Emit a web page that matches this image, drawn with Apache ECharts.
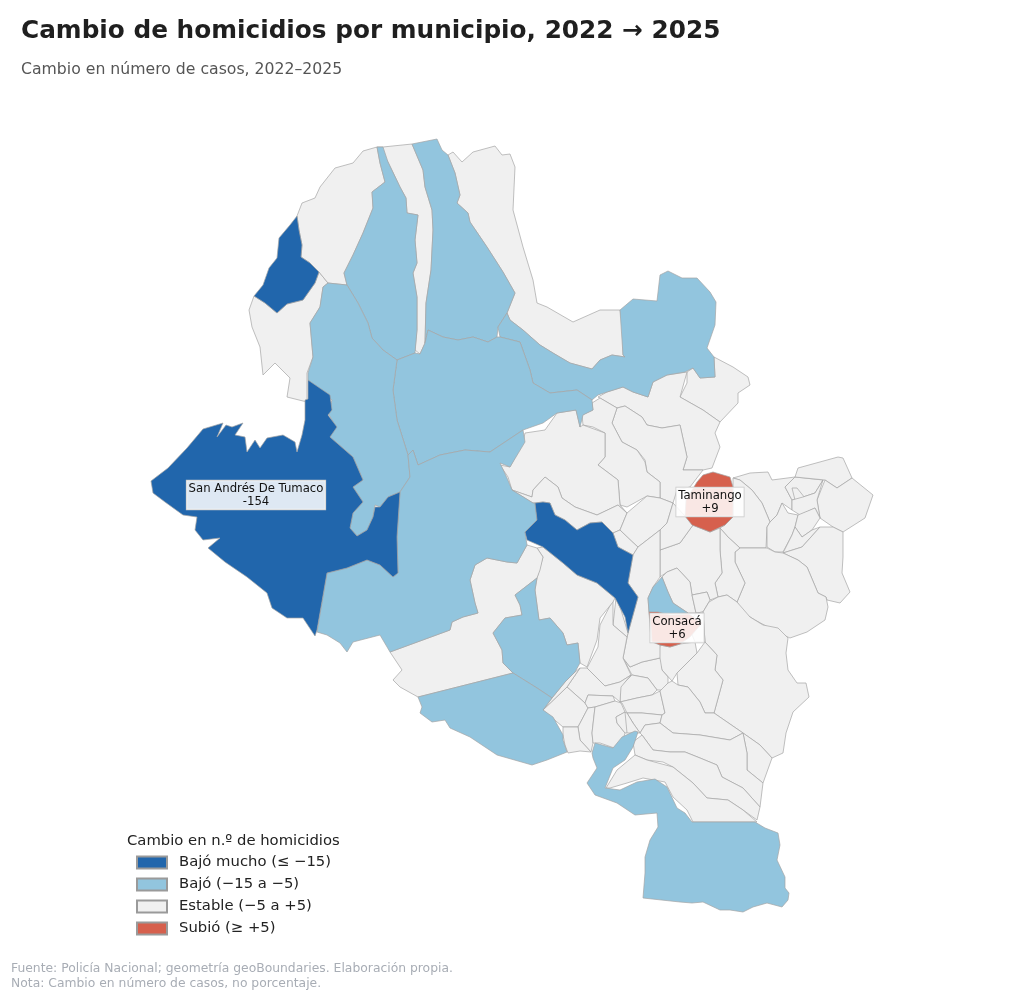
<!DOCTYPE html>
<html><head><meta charset="utf-8">
<style>html,body{margin:0;padding:0;background:#fff}#c{width:1024px;height:1000px}</style>
<script src="https://cdn.jsdelivr.net/npm/echarts@6/dist/echarts.min.js"></script>
</head><body><div id="c"></div>
<script>
const titleText='Cambio de homicidios por municipio, 2022 → 2025';
const subtitleText='Cambio en número de casos, 2022–2025';
const legendTitle='Cambio en n.º de homicidios';
const legendLabels=['Bajó mucho (≤ −15)','Bajó (−15 a −5)','Estable (−5 a +5)','Subió (≥ +5)'];
const binColors=['#2166ac','#92c5de','#f0f0f0','#d6604d'];
const footerText='Fuente: Policía Nacional; geometría geoBoundaries. Elaboración propia.\nNota: Cambio en número de casos, no porcentaje.';
const labelled=['San Andrés De Tumaco','Taminango','Consacá'];
const labelAnchors={'San Andrés De Tumaco':[256,495],'Taminango':[710,502],'Consacá':[677,628]};

// municipal boundaries, as flat x,y lists
const shapes={
G01:[254,296,249,310,252,327,260,347,263,375,275,363,290,378,287,397,307,402,307,373,313,357,310,323,320,307,323,287,328,283,319,272,315,283,303,300,287,304,277,313,265,303],
G02:[297,216,302,203,315,198,320,187,335,168,353,163,363,151,377,147,380,163,385,182,372,192,373,208,363,233,353,255,344,273,347,285,328,283,319,272,310,263,301,257,302,245,299,230],
G03:[377,147,383,147,412,144,423,170,425,187,432,210,433,230,431,270,426,303,425,343,420,354,415,350,417,330,417,297,413,273,417,263,415,240,418,215,407,213,406,198,400,187,388,162],
G04:[448,155,453,152,462,162,473,152,495,146,502,155,510,154,515,167,513,210,523,247,533,280,537,303,547,307,573,322,600,310,620,310,623,327,623,355,625,357,612,355,600,360,592,369,570,363,553,353,540,345,523,330,510,320,507,313,515,293,503,272,487,247,470,222,468,213,457,203,460,195,455,173],
G05:[687,372,693,368,700,378,715,377,714,357,733,367,748,377,750,385,738,393,738,403,720,422,703,410,680,397,687,383],
G06:[598,397,607,392,623,387,633,392,648,397,653,382,667,375,687,372,680,397,703,410,720,422,715,433,720,447,712,468,703,470,683,470,687,457,680,425,662,428,647,425,642,417,625,406,617,408,600,398],
G07:[617,408,612,423,622,442,637,450,645,460,647,472,660,482,660,498,673,503,677,490,690,487,703,470,683,470,687,457,680,425,662,428,647,425,642,417,625,406],
G08:[592,403,600,398,617,408,612,423,622,442,637,450,645,462,647,472,660,482,660,498,647,496,627,507,620,505,618,480,598,465,605,457,605,433,593,427,583,425,582,415,593,410],
G09:[525,433,545,430,557,413,576,410,580,427,583,425,605,433,605,457,598,465,618,480,620,505,627,513,618,505,597,515,575,507,562,498,558,487,545,477,533,490,532,497,512,490,508,477,500,465,510,467,523,442],
G10:[512,490,532,497,533,490,545,477,558,487,562,498,575,507,597,515,618,505,627,513,620,530,613,533,602,522,590,523,577,530,565,520,555,515,550,503,543,502,535,503,533,503],
G11:[620,530,638,547,633,555,618,547,613,533],
G12:[627,513,647,496,660,498,673,503,667,523,660,530,638,547,620,530],
G13:[733,478,750,473,768,472,772,480,795,477,785,487,792,500,792,510,782,503,777,515,770,522,762,503,752,490,740,480],
G14:[733,478,740,480,752,490,762,503,770,522,767,527,766,548,740,548,728,537,720,528,725,525,733,517],
G15:[770,522,777,515,782,503,788,513,798,515,795,527,792,535,783,552,775,552,767,547,767,527],
G16:[785,487,795,477,823,480,815,493,803,497,792,500],
G17:[792,488,797,488,805,498,795,500],
G18:[795,477,798,468,838,457,843,458,852,478,837,488,825,480],
G19:[825,480,837,488,852,478,873,495,865,518,843,532,833,527,820,518,817,500],
G20:[817,500,820,518,815,508,800,515,792,510,792,500,803,497,815,493,823,480],
G21:[798,515,815,508,820,518,812,530,802,537,795,527],
G22:[792,535,795,527,802,537,812,530,820,527,802,547,783,553],
G23:[783,553,802,547,820,527,833,527,843,532,843,557,842,573,850,592,840,603,827,600,826,597,818,593,807,567,798,560],
G24:[735,552,740,548,767,548,775,552,783,553,798,560,807,567,818,593,826,597,828,607,825,620,807,632,790,638,777,632,755,620,742,612,737,602,745,583,735,562],
G25:[720,528,728,537,740,548,735,552,735,562,745,583,737,602,727,595,718,597,715,583,722,573,720,550],
G26:[660,550,680,543,693,525,710,532,720,528,720,550,722,573,715,583,718,597,710,600,707,592,692,595,690,582,677,568,667,572,660,577],
G27:[673,503,685,516,693,525,680,543,660,550,660,530,667,523],
G28:[662,577,667,572,677,568,690,582,692,595,696,613,688,613,673,603,668,592],
G29:[692,595,707,592,710,600,703,612,696,613],
G30:[709,602,718,597,727,595,737,602,750,617,763,625,778,628,788,638,786,653,788,670,797,683,806,683,809,697,793,712,786,733,783,753,772,758,760,745,743,733,714,713,723,680,715,670,717,655,705,642,703,612],
G31:[660,645,658,658,662,670,672,681,677,673,697,653,695,642,680,644,670,647],
G32:[677,673,678,685,688,687,700,702,705,713,714,713,723,680,715,670,717,655,705,642,697,653],
G33:[696,613,703,612,705,642,695,642,688,625],
G34:[623,658,630,667,642,662,660,658,662,670,668,677,668,683,663,690,657,690,648,678,632,675],
G35:[632,675,648,678,657,690,652,695,637,698,620,702,620,687],
G36:[620,702,637,698,652,695,660,691,665,713,662,715,642,713,627,713,622,703],
G37:[627,713,642,713,662,715,660,723,645,725,640,733,633,723],
G38:[672,681,678,685,688,687,700,702,705,713,714,713,743,733,730,740,700,735,673,733,660,723,662,715,665,713,660,691,668,683],
G39:[743,733,760,745,772,758,763,783,747,770,747,753],
G40:[640,733,645,725,660,723,673,733,700,735,730,740,743,733,747,753,747,770,763,783,760,807,743,788,722,777,717,765,700,758,685,752,670,752,653,750,642,735],
G41:[633,742,642,735,653,750,670,752,685,752,700,758,717,765,722,777,743,788,760,807,757,820,743,810,728,800,707,798,693,783,673,767,663,762,647,760,635,755],
G42:[635,755,647,760,673,767,693,783,707,798,728,800,743,810,757,822,693,822,687,810,673,797,665,782,643,778,627,783,610,788,606,788,617,770],
G43:[633,555,638,547,660,530,660,577,653,587,648,598,649,612,651,640,660,645,660,658,642,662,630,667,623,658,628,633,638,597,628,583],
G44:[616,598,613,625,627,637,628,633,621,610],
G45:[613,600,600,625,598,647,587,668,605,686,620,682,631,675,623,658,627,637,613,625],
G46:[567,687,580,668,587,668,605,686,620,682,631,675,621,687,620,702,613,696,588,695,585,703],
G47:[543,710,567,687,585,703,588,708,578,727,563,727],
G48:[585,703,588,695,613,696,615,701,595,707,588,708],
G49:[588,708,595,707,592,733,593,743,591,752,580,740,578,727],
G50:[595,707,615,701,621,703,625,712,616,717,617,723,625,733,620,750,600,743,593,743,592,733],
G51:[616,717,625,712,633,723,627,733,625,733,617,723],
G52:[627,713,633,723,640,733,635,733,627,733,625,712],
G53:[563,727,578,727,580,740,591,752,580,751,568,753,565,745,563,735],
G54:[552,698,565,682,575,672,580,668,567,687,543,710],
G55:[537,548,543,547,563,563,577,575,597,583,615,598,613,602,600,618,597,640,587,667,580,663,578,643,567,645,563,633,550,618,539,620,535,590,537,578,543,557],
G56:[390,652,450,630,452,622,463,617,478,613,475,603,470,580,475,565,487,558,507,562,517,563,527,545,537,548,543,557,540,570,537,578,515,595,520,605,522,615,505,618,493,633,502,650,503,663,513,673,418,697,400,687,393,680,402,670],
L01:[377,147,383,147,388,162,400,187,406,198,407,213,418,215,415,240,417,263,413,273,417,297,417,330,415,353,397,360,383,350,372,338,368,323,358,303,347,285,344,273,353,255,363,233,373,208,372,192,385,182,380,163],
L02:[412,144,437,139,442,150,448,155,455,173,460,195,457,203,468,213,470,222,487,247,503,272,515,293,507,313,498,327,497,337,488,342,473,337,458,340,443,337,428,330,425,343,426,303,431,270,433,230,432,210,425,187,423,170],
L03:[498,327,507,313,510,320,523,330,540,345,553,353,570,363,592,369,600,360,612,355,625,357,623,355,620,310,633,299,657,301,660,275,668,271,682,278,697,278,710,292,716,302,715,325,707,348,714,357,715,377,700,378,693,368,685,372,667,375,653,382,648,397,633,392,623,387,607,392,598,395,592,400,577,390,550,393,533,383,530,370,520,342,500,337],
L04:[397,360,415,353,420,354,425,343,428,330,443,337,458,340,473,337,488,342,497,337,500,337,520,342,530,370,533,383,550,393,577,390,592,400,593,410,583,415,580,427,576,410,557,413,543,423,523,430,490,452,465,450,440,455,418,465,413,450,408,455,397,420,393,390],
L05:[323,287,328,283,347,285,358,303,368,323,372,338,383,350,397,360,393,390,397,420,408,455,410,477,400,492,388,497,380,507,375,505,373,517,367,530,357,536,350,528,353,513,363,502,353,487,363,480,353,457,330,437,336,427,328,413,332,400,308,380,308,373,313,357,310,323,320,307],
L06:[400,492,410,477,408,455,413,450,418,465,440,455,465,450,490,452,523,430,525,442,510,467,500,463,507,478,512,490,533,503,535,503,537,520,525,532,527,545,517,563,507,562,487,558,475,565,470,580,475,603,478,613,463,617,452,622,450,630,390,652,380,635,353,642,347,652,340,643,327,635,317,632,327,573,347,568,367,560,380,565,393,577,398,573,397,537],
L07:[537,578,535,590,539,620,550,618,563,633,567,645,578,643,580,663,575,672,565,682,552,698,537,688,513,673,503,663,502,650,493,633,505,618,522,615,520,605,515,595],
L08:[418,697,513,673,537,688,552,698,543,710,553,717,563,735,563,740,567,752,547,760,532,765,497,755,470,737,450,728,445,720,432,722,420,713,422,707],
L09:[662,577,668,592,673,603,688,613,660,614,649,612,648,598,653,587],
L10:[638,732,633,747,625,760,613,768,605,788,620,790,637,782,655,779,667,787,677,808,685,813,692,822,755,822,765,828,778,833,780,845,777,860,785,877,785,888,789,893,788,900,782,907,767,903,753,907,743,912,730,910,720,910,703,902,692,903,680,902,643,898,645,873,645,857,650,840,658,827,657,813,635,815,617,803,595,795,587,783,597,768,593,758,592,753,595,743,613,748,622,737,635,731],
D01:[297,216,299,230,302,245,301,257,310,263,319,272,315,283,303,300,287,304,277,313,265,303,254,296,263,285,269,268,277,258,279,238,290,225],
D02:[525,532,537,520,535,503,543,502,550,503,555,515,565,520,577,530,590,523,602,522,613,533,618,547,633,555,628,583,638,597,628,633,625,617,615,598,597,583,577,575,563,563,543,547,527,540],
'San Andrés De Tumaco':[308,380,330,395,332,410,328,415,337,427,330,437,353,457,363,480,353,487,363,502,353,513,350,528,357,536,367,530,373,517,375,507,380,507,388,497,400,492,397,537,398,573,393,577,380,565,367,560,347,568,327,573,317,630,315,636,303,618,287,618,272,608,267,593,247,577,225,562,208,548,220,538,203,540,195,530,197,517,183,515,165,502,153,493,151,481,168,468,187,448,203,429,223,423,217,437,226,425,232,427,243,423,235,435,245,437,247,452,255,440,260,448,267,438,283,435,295,442,297,452,302,435,305,420,305,400,308,399],
'Taminango':[697,482,703,475,713,472,730,477,733,487,733,517,725,525,710,532,692,525,685,516,686,500],
'Consacá':[649,612,658,612,670,615,689,614,702,623,690,637,680,644,670,647,660,645,652,642,651,627]
};
// change in homicide cases per municipality (read or estimated from the bin shown)
const lowMuch=['D01','D02'];
const lowMuchValues=[-18,-22];
const tumacoValue=-154;
const lowNames=['L01','L02','L03','L04','L05','L06','L07','L08','L09','L10'];
const lowValues=[-8,-7,-9,-10,-8,-12,-6,-7,-6,-9];
const taminangoValue=9;
const consacaValue=6;

function bin(v){return v<=-15?0:v<=-5?1:v<5?2:3;}
const values={'San Andrés De Tumaco':tumacoValue,'Taminango':taminangoValue,'Consacá':consacaValue};
lowMuch.forEach((n,i)=>values[n]=lowMuchValues[i]);
lowNames.forEach((n,i)=>values[n]=lowValues[i]);
Object.keys(shapes).forEach(n=>{if(!(n in values))values[n]=0;});

function ring(f){const r=[];for(let i=0;i<f.length;i+=2)r.push([f[i],1000-f[i+1]]);r.push(r[0].slice());return r;}
const features=Object.keys(shapes).map(n=>({type:'Feature',
  properties:Object.assign({name:n},labelAnchors[n]?{cp:[labelAnchors[n][0],1000-labelAnchors[n][1]]}:{}),
  geometry:{type:'Polygon',coordinates:[ring(shapes[n])]}}));
echarts.registerMap('narino',{type:'FeatureCollection',features});

const mapData=Object.keys(shapes).map(n=>{
  const v=values[n],isL=labelled.includes(n);
  return {name:n,value:v,itemStyle:{areaColor:binColors[bin(v)]},
    label:{show:isL,formatter:p=>p.name+'\n'+(p.value>0?'+':'')+p.value}};
});

const chart=echarts.init(document.getElementById('c'),null,{renderer:'canvas'});
const FONT='"DejaVu Sans"';
chart.setOption({
  animation:false,backgroundColor:'#fff',
  title:[
    {text:titleText,left:21,top:19,textStyle:{fontFamily:FONT,fontSize:24.75,fontWeight:'bold',color:'#1f1f1f'},padding:0},
    {text:subtitleText,left:21,top:62,textStyle:{fontFamily:FONT,fontSize:15.7,fontWeight:'normal',color:'#555'},padding:0},
    {text:legendTitle,left:127,top:834,textStyle:{fontFamily:FONT,fontSize:14.8,fontWeight:'normal',color:'#222'},padding:0},
    {text:footerText,left:11,top:962,textStyle:{fontFamily:FONT,fontSize:12.35,fontWeight:'normal',color:'#a8adb5',lineHeight:14.5},padding:0}
  ],
  legend:{orient:'vertical',left:131,top:849,itemWidth:30,itemHeight:12,itemGap:5,selectedMode:false,icon:'rect',
    data:legendLabels,textStyle:{fontFamily:FONT,fontSize:14.8,color:'#222',padding:[0,0,0,7],lineHeight:17}},
  grid:{left:0,top:0,width:1,height:1,show:false},
  xAxis:{show:false,type:'category',data:[]},
  yAxis:{show:false,type:'value'},
  series:[
    {type:'map',map:'narino',aspectScale:1,roam:false,silent:true,selectedMode:false,showLegendSymbol:false,
     boundingCoords:[[0,1000],[1024,0]],layoutCenter:[512,500],layoutSize:1024,
     itemStyle:{borderColor:'#a5a5a5',borderWidth:0.7,areaColor:'#f0f0f0'},
     label:{show:false,position:'inside',fontFamily:FONT,fontSize:11.7,color:'#111',lineHeight:13,align:'center',verticalAlign:'middle',
       backgroundColor:'rgba(255,255,255,0.85)',borderColor:'#c8c8c8',borderWidth:0.7,padding:[2,2,1,2]},
     emphasis:{disabled:true},
     data:mapData},
    ...legendLabels.map((l,i)=>({type:'bar',name:l,data:[],
      itemStyle:{color:binColors[i],borderColor:'#9a9a9a',borderWidth:1}}))
  ]
});
</script></body></html>
